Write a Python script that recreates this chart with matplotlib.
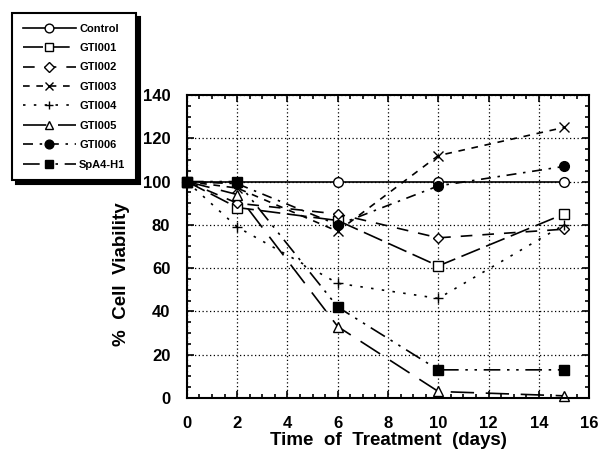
import numpy as np
import matplotlib
matplotlib.use("Agg")
import matplotlib.pyplot as plt
from matplotlib.ticker import MultipleLocator

plt.rcParams['font.family'] = ['Liberation Sans', 'DejaVu Sans']
plt.rcParams['font.weight'] = 'bold'

days = [0, 2, 6, 10, 15]

control = [100, 100, 100, 100, 100]
gti001 = [100, 88, 82, 61, 85]
gti002 = [100, 90, 85, 74, 78]
gti003 = [100, 97, 77, 112, 125]
gti004 = [100, 79, 53, 46, 80]
gti005 = [100, 94, 33, 3, 1]
gti006 = [100, 99, 80, 98, 107]
spa4 = [100, 100, 42, 13, 13]

labels = ["Control", "GTI001", "GTI002", "GTI003", "GTI004",
          "GTI005", "GTI006", "SpA4-H1"]

fig = plt.figure(figsize=(6.03, 4.5), dpi=100)
ax = fig.add_axes([0.310, 0.1156, 0.667, 0.6733])

# (series, marker, marker face, dash pattern)
styles = [
    (control, 'o', 'white', None),
    (gti001, 's', 'white', (12, 4)),
    (gti002, 'D', 'white', (7, 6)),
    (gti003, 'x', 'white', (4, 4)),
    (gti004, '+', 'white', (1.5, 5)),
    (gti005, '^', 'white', (14, 7)),
    (gti006, 'o', 'black', (6, 4, 1.5, 4)),
    (spa4, 's', 'black', (10, 4, 1.5, 4, 1.5, 4)),
]

handles = []
for (vals, mk, fc, dash), lab in zip(styles, labels):
    ms = 5.5 if mk == 'D' else 7
    line, = ax.plot(days, vals, color='black', lw=1.2, marker=mk, ms=ms,
                    mfc=fc, mec='black', mew=1.0, label=lab, clip_on=False)
    if dash is not None:
        line.set_dashes(dash)
    handles.append(line)

ax.set_xlim(0, 16)
ax.set_ylim(0, 140)
ax.xaxis.set_major_locator(MultipleLocator(2))
ax.xaxis.set_minor_locator(MultipleLocator(0.5))
ax.yaxis.set_major_locator(MultipleLocator(20))
ax.yaxis.set_minor_locator(MultipleLocator(5))
ax.tick_params(which='both', direction='in', top=True, right=True,
               color='black', width=1.2)
ax.tick_params(which='major', length=5, labelsize=12, pad=12)
ax.tick_params(axis='x', which='major', pad=13)
ax.tick_params(which='minor', length=3)
ax.grid(True, which='major', color='black', ls=(0, (1, 2)), lw=0.9)
for sp in ax.spines.values():
    sp.set_linewidth(1.5)

ax.set_xlabel("Time  of  Treatment  (days)", fontsize=13.5, fontweight='bold')
ax.xaxis.set_label_coords(0.5, -0.112)
ax.set_ylabel("%  Cell  Viability", fontsize=13.5, fontweight='bold')
ax.yaxis.set_label_coords(-0.142, 0.41)

leg = fig.legend(handles=handles, loc='upper left',
                 bbox_to_anchor=(12 / 603, 1 - 13 / 450),
                 bbox_transform=fig.transFigure, fontsize=8,
                 handlelength=4.8, handletextpad=0.3, labelspacing=0.85,
                 borderpad=0.95, borderaxespad=0, fancybox=False, numpoints=1,
                 markerscale=0.9,
                 shadow={'color': 'black', 'alpha': 1, 'ox': 3, 'oy': -3},
                 edgecolor='black', framealpha=1)
leg.get_frame().set_linewidth(1.5)

fig.savefig("out.png", dpi=100)
